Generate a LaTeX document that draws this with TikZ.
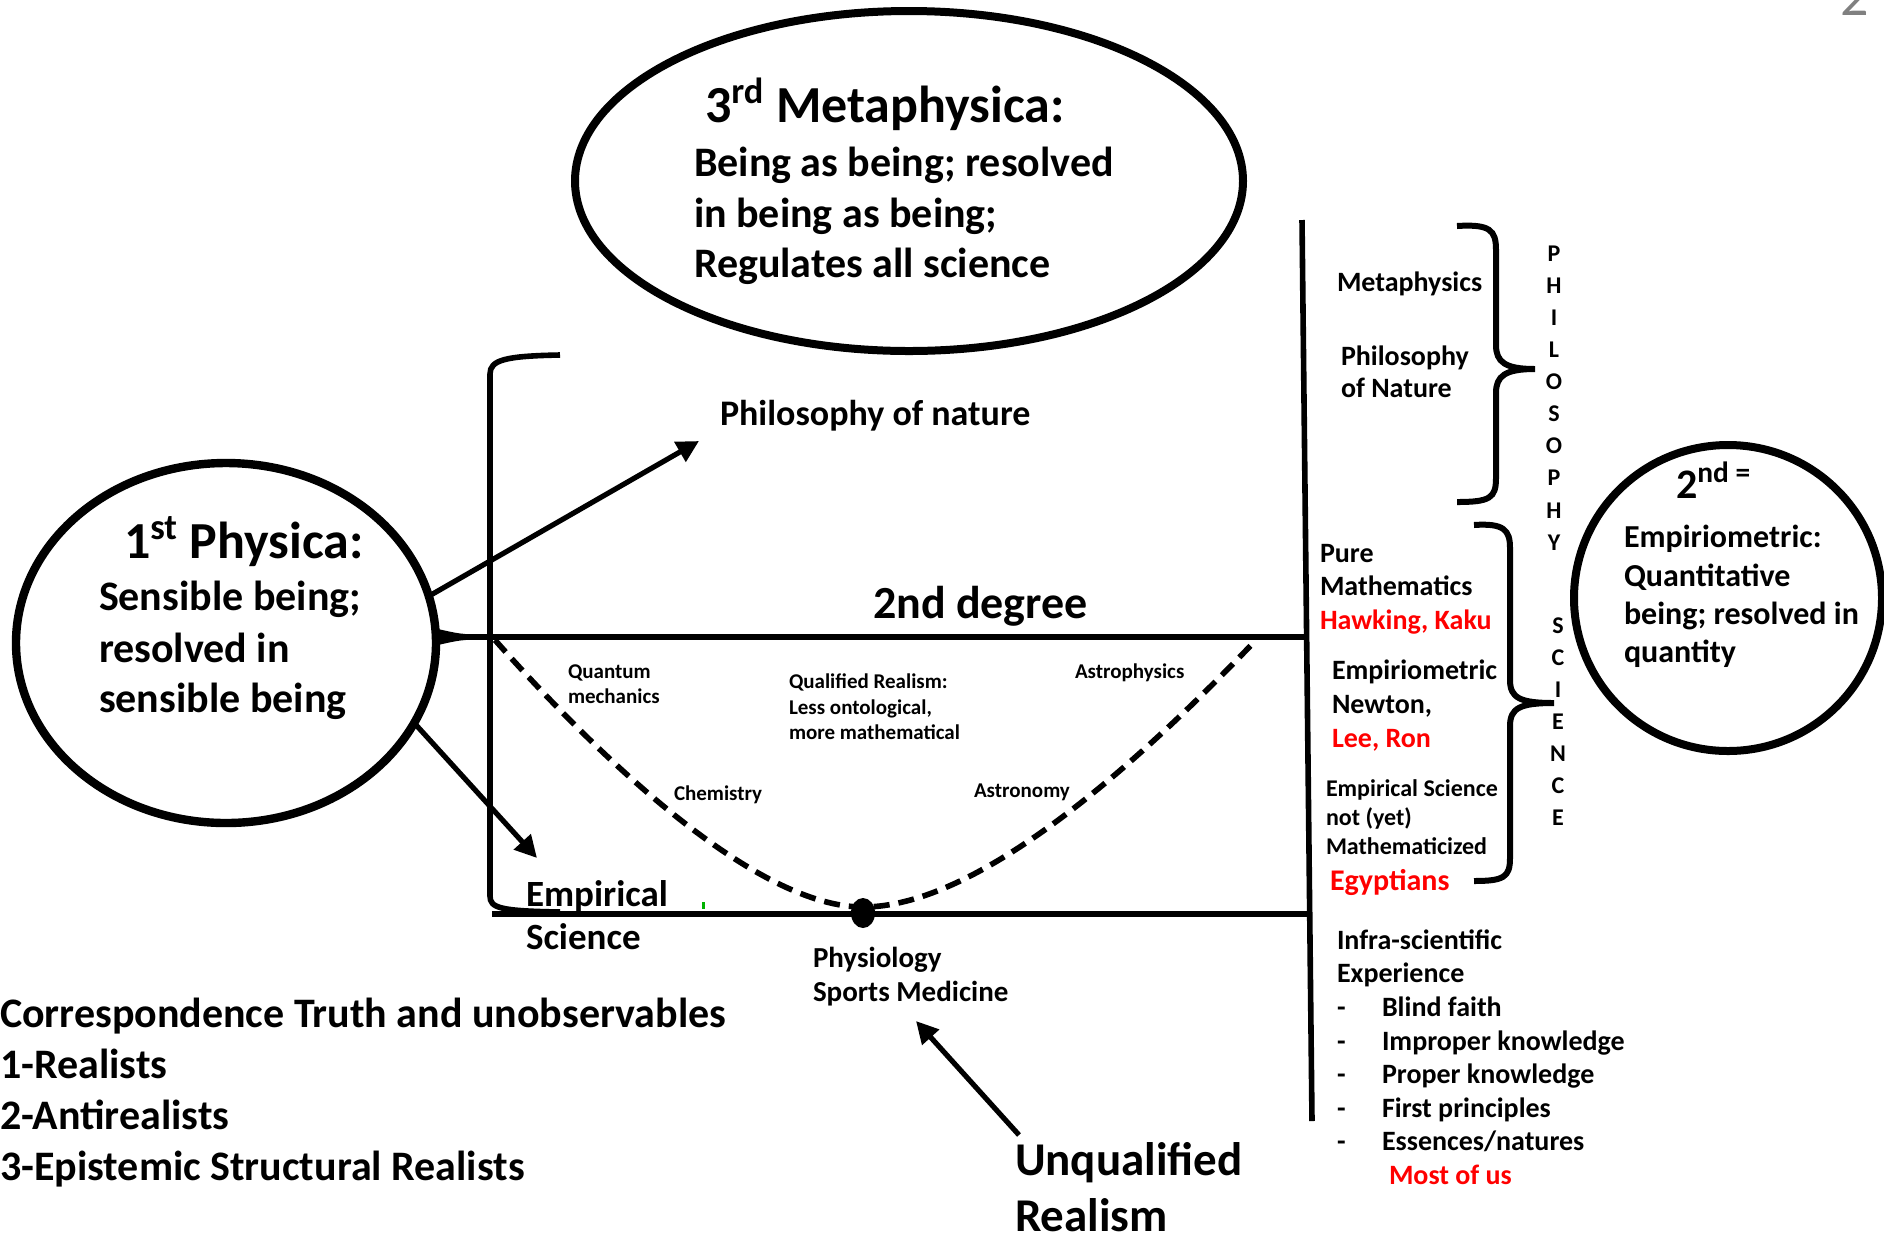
\documentclass[tikz,border=0pt]{standalone}
\usepackage{fontspec}
\setmainfont{Carlito}
\usetikzlibrary{arrows.meta,shapes.geometric}
\newcommand\fsz[2]{\fontsize{#1}{#2}\selectfont}
\definecolor{refred}{RGB}{255,0,0}
\definecolor{pagegray}{RGB}{128,128,128}
\begin{document}
\begin{tikzpicture}[x=0.5pt,y=-0.5pt,
  every node/.style={inner sep=0pt,outer sep=0pt},
  txt/.style={anchor=base west,font=\bfseries\fsz{#1}{#1}},
  red/.style={text=refred},
  bigell/.style={draw,ellipse,line width=4pt},
  mainline/.style={line width=2.8pt},
  brace/.style={line width=3pt},
  arr/.style={line width=2.6pt,-{Triangle[length=11pt,width=11pt]}},
  dashcurve/.style={line width=2.8pt,dash pattern=on 8pt off 4.5pt},
  letter/.style={anchor=center,font=\bfseries\fsz{12}{12}}]
\useasboundingbox (0,0) rectangle (1884,1239);
\fill[white] (0,0) rectangle (1884,1239);

% ---- ellipses
\node[bigell,minimum width=334pt,minimum height=170pt] (meta) at (909,181) {};
\node[bigell,line width=4.2pt,minimum width=210pt,minimum height=180pt] (phys) at (226,643) {};
\node[bigell,minimum width=154pt,minimum height=153pt] (emp) at (1728,598) {};

% ---- top ellipse text
\node[txt=26] (metaH) at (705,122) {3\textsuperscript{rd} Metaphysica:};
\node[txt=21] (metaA) at (694,176) {Being as being; resolved};
\node[txt=21] (metaB) at (694,227) {in being as being;};
\node[txt=21] (metaC) at (694,277) {Regulates all science};

% ---- left circle text
\node[txt=26] (physH) at (124,558) {1\textsuperscript{st} Physica:};
\node[txt=21] (physA) at (99,610) {Sensible being;};
\node[txt=21] (physB) at (99,662) {resolved in};
\node[txt=21] (physC) at (99,712) {sensible being};

% ---- right circle text
\node[txt=21] (empH) at (1676,498) {2\textsuperscript{nd =}};
\node[txt=16] (empA) at (1624,547) {Empiriometric:};
\node[txt=16] (empB) at (1624,586) {Quantitative};
\node[txt=16] (empC) at (1624,624) {being; resolved in};
\node[txt=16] (empD) at (1624,662) {quantity};

% ---- main lines
\coordinate (vtop) at (1302,220);
\coordinate (vbot) at (1312,1121);
\draw[mainline] (vtop) -- (vbot);
\coordinate (degL) at (440,637);
\coordinate (degR) at (1304,637);
\draw[mainline] (degL) -- (degR);
\fill (438,629) .. controls (460,634) .. (486,635) -- (486,639) .. controls (460,640) .. (438,645) -- cycle;
\coordinate (brTop) at (560,355);
\coordinate (botL) at (492,914);
\coordinate (botR) at (1311,914);
\draw[mainline] (brTop) .. controls (505,356) and (490,360) .. (490,374) -- (490,896)
   .. controls (490,908) and (500,911) .. (560,912);
\draw[mainline] (botL) -- (botR);

% ---- dashed curve
\coordinate (dcL) at (495,640);
\coordinate (dcR) at (1256,640);
\node[fill,ellipse,minimum width=12pt,minimum height=15pt] (dot) at (863,913) {};
\draw[dashcurve] (dcL) .. controls (610,770) and (760,907) .. (863,907)
   .. controls (975,907) and (1130,772) .. (dcR);
\fill[green!70!black] (702,902) rectangle (705,909);

% ---- centre labels
\node[txt=18] (pon) at (720,425) {Philosophy of nature};
\node[txt=23] (deg) at (873,618) {2nd degree};
\node[txt=10.5] (qm1) at (568,678) {Quantum};
\node[txt=10.5] (qm2) at (568,703) {mechanics};
\node[txt=10.5] (qr1) at (789,688) {Qualified Realism:};
\node[txt=10.5] (qr2) at (789,714) {Less ontological,};
\node[txt=10.5] (qr3) at (789,739) {more mathematical};
\node[txt=10.5] (astp) at (1075,678) {Astrophysics};
\node[txt=10.5] (chem) at (674,800) {Chemistry};
\node[txt=10.5] (astn) at (974,797) {Astronomy};
\node[txt=18.5] (es1) at (526,906) {Empirical};
\node[txt=18.5] (es2) at (526,949) {Science};
\node[txt=14.5] (phy) at (813,967) {Physiology};
\node[txt=14.5] (sports) at (813,1001) {Sports Medicine};

% ---- bottom left
\node[txt=21] (ct0) at (0,1027) {Correspondence Truth and unobservables};
\node[txt=21] (ct1) at (0,1078) {1-Realists};
\node[txt=21] (ct2) at (0,1129) {2-Antirealists};
\node[txt=21] (ct3) at (0,1180) {3-Epistemic Structural Realists};

% ---- unqualified realism
\node[txt=23.5] (uq1) at (1015,1175) {Unqualified};
\node[txt=23.5] (uq2) at (1015,1231) {Realism};

% ---- arrows
\coordinate (a1tip) at (699,441);
\coordinate (a2tip) at (537,858);
\coordinate (a3start) at (1019,1135);
\coordinate (a3tip) at (916,1021);
\draw[arr] (phys.13) -- (a1tip);
\draw[arr] (phys.-23) -- (a2tip);
\draw[arr] (a3start) -- (a3tip);

% ---- right column
\node[txt=14] (rm1) at (1337,291) {Metaphysics};
\node[txt=14] (rp1) at (1341,365) {Philosophy};
\node[txt=14] (rp2) at (1341,397) {of Nature};
\node[txt=14] (pm1) at (1320,562) {Pure};
\node[txt=14] (pm2) at (1320,595) {Mathematics};
\node[txt=14,red] (pm3) at (1320,629) {Hawking, Kaku};
\node[txt=14] (em1) at (1332,679) {Empiriometric};
\node[txt=14] (em2) at (1332,713) {Newton,};
\node[txt=14,red] (em3) at (1332,747) {Lee, Ron};
\node[txt=12] (ns1) at (1326,796) {Empirical Science};
\node[txt=12] (ns2) at (1326,825) {not (yet)};
\node[txt=12] (ns3) at (1326,854) {Mathematicized};
\node[txt=15,red] (ns4) at (1330,890) {Egyptians};
\node[txt=14] (in1) at (1337,949) {Infra-scientific};
\node[txt=14] (in2) at (1337,982) {Experience};
\node[txt=14] (d1) at (1337,1016) {-};
\node[txt=14] (i1) at (1382,1016) {Blind faith};
\node[txt=14] (d2) at (1337,1050) {-};
\node[txt=14] (i2) at (1382,1050) {Improper knowledge};
\node[txt=14] (d3) at (1337,1083) {-};
\node[txt=14] (i3) at (1382,1083) {Proper knowledge};
\node[txt=14] (d4) at (1337,1117) {-};
\node[txt=14] (i4) at (1382,1117) {First principles};
\node[txt=14] (d5) at (1337,1150) {-};
\node[txt=14] (i5) at (1382,1150) {Essences/natures};
\node[txt=14,red] (i6) at (1389,1184) {Most of us};

% ---- braces
\draw[brace] (1457,226) .. controls (1490,224) and (1496,230) .. (1496,250) -- (1496,345)
   .. controls (1496,362) and (1505,369) .. (1535,369)
   .. controls (1505,369) and (1496,376) .. (1496,393) -- (1496,478)
   .. controls (1496,498) and (1490,502) .. (1457,502);
\draw[brace] (1474,525) .. controls (1504,523) and (1510,530) .. (1510,548) -- (1510,680)
   .. controls (1510,698) and (1520,703) .. (1554,703)
   .. controls (1520,703) and (1510,708) .. (1510,726) -- (1510,858)
   .. controls (1510,877) and (1504,881) .. (1474,881);

% ---- vertical words
\foreach \ch [count=\i] in {P,H,I,L,O,S,O,P,H,Y}
  \node[letter] (ph\i) at (1554,{253.5+32.1*(\i-1)}) {\ch};
\foreach \ch [count=\i] in {S,C,I,E,N,C,E}
  \node[letter] (sc\i) at (1558,{626+32*(\i-1)}) {\ch};

% ---- page number (cut off at the top edge, as in the reference)
\node[anchor=base,font=\fsz{28}{28},text=pagegray] (pnum) at (1855,15) {2};
\end{tikzpicture}
\end{document}
